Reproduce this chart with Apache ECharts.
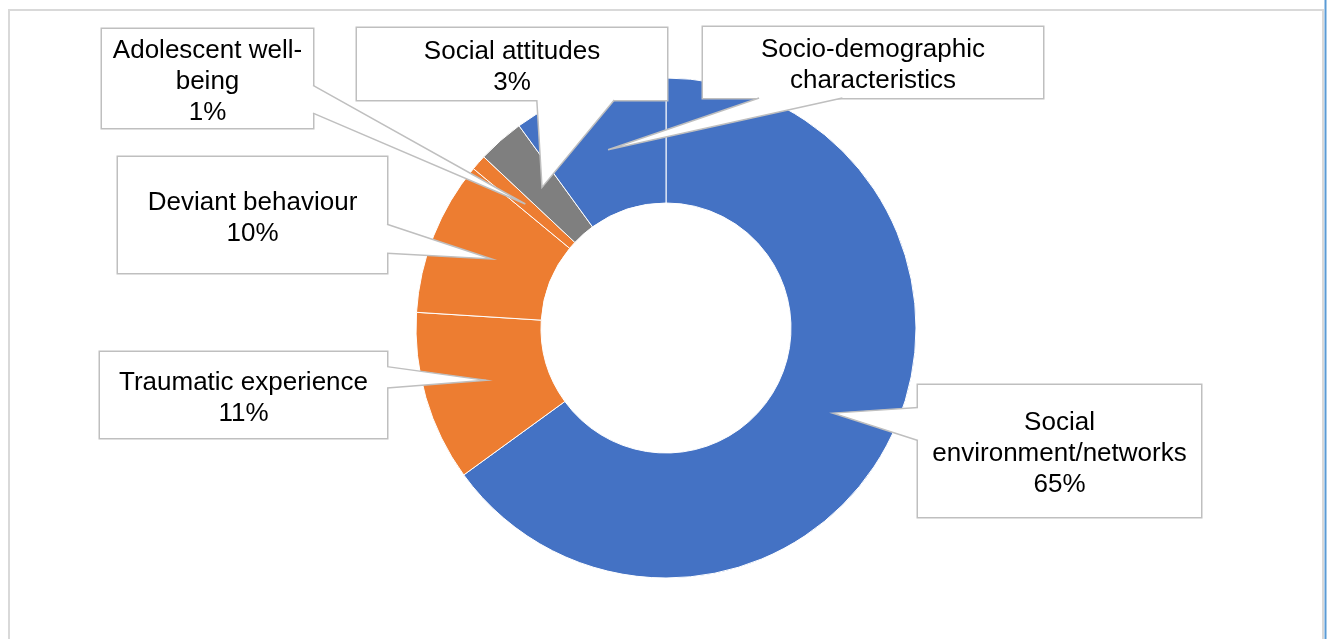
<!DOCTYPE html>
<html>
<head>
<meta charset="utf-8">
<script src="https://cdn.jsdelivr.net/npm/echarts@6/dist/echarts.min.js"></script>
<style>
  html, body { margin: 0; padding: 0; background: #fff; }
  #chart { width: 1330px; height: 639px; }
</style>
</head>
<body>
<div id="chart"></div>
<script>
// Share of studies by factor group (percent)
const categories = [
  'Social environment/networks',
  'Traumatic experience',
  'Deviant behaviour',
  'Adolescent well-being',
  'Social attitudes',
  'Socio-demographic characteristics'
];
const shares = [65, 11, 10, 1, 3, 10];
const labelTexts = [
  'Social\nenvironment/networks',
  'Traumatic experience',
  'Deviant behaviour',
  'Adolescent well-\nbeing',
  'Social attitudes',
  'Socio-demographic\ncharacteristics'
];
const showShare = [true, true, true, true, true, false];
const colors = ['#4472C4', '#ED7D31', '#ED7D31', '#ED7D31', '#7F7F7F', '#4472C4'];

// Donut geometry
const CX = 666, CY = 328, R_IN = 125, R_OUT = 250;
const LINE_H = 31;
const TEXT_SHIFT = 3; // text sits a little below the box middle

// Callout boxes: outer rect plus the edge and span where the pointer leaves the box
const callouts = [
  { x: 918, y: 385, w: 283, h: 132, edge: 'left',   span: [0.17, 0.42] },
  { x: 100, y: 352, w: 287, h: 86,  edge: 'right',  span: [0.17, 0.42] },
  { x: 118, y: 157, w: 269, h: 116, edge: 'right',  span: [0.58, 0.83] },
  { x: 102, y: 29,  w: 211, h: 99,  edge: 'right',  span: [0.57, 0.85] },
  { x: 357, y: 28,  w: 310, h: 72,  edge: 'bottom', span: [0.58, 0.83] },
  { x: 703, y: 27,  w: 340, h: 71,  edge: 'bottom', span: [0.165, 0.41] }
];

function labelText(i) {
  return labelTexts[i] + (showShare[i] ? '\n' + shares[i] + '%' : '');
}

const total = shares.reduce((a, b) => a + b, 0);

const data = categories.map((name, i) => {
  const box = callouts[i];
  const nLines = labelText(i).split('\n').length;
  const pv = Math.max(0, (box.h - nLines * LINE_H) / 2);
  const top = pv + TEXT_SHIFT;
  const bottom = Math.max(0, box.h - nLines * LINE_H - top);
  return {
    name: name,
    value: shares[i],
    itemStyle: { color: colors[i] },
    label: { width: box.w, padding: [top, 0, bottom, 0] }
  };
});

// Pointer tails from each box to the middle of its slice
const tails = [];
let acc = 0;
shares.forEach((v, i) => {
  const mid = (acc + v / 2) / total * Math.PI * 2;
  acc += v;
  const rm = (R_IN + R_OUT) / 2;
  const tip = [CX + rm * Math.sin(mid), CY - rm * Math.cos(mid)];
  const b = callouts[i];
  let b1, b2, b1in, b2in;
  if (b.edge === 'left' || b.edge === 'right') {
    const ex = b.edge === 'left' ? b.x : b.x + b.w;
    const inX = b.edge === 'left' ? ex + 2.5 : ex - 2.5;
    const y1 = b.y + b.span[0] * b.h, y2 = b.y + b.span[1] * b.h;
    b1 = [ex, y1]; b2 = [ex, y2]; b1in = [inX, y1]; b2in = [inX, y2];
  } else {
    const ey = b.y + b.h;
    const x1 = b.x + b.span[0] * b.w, x2 = b.x + b.span[1] * b.w;
    b1 = [x1, ey]; b2 = [x2, ey]; b1in = [x1, ey - 2.5]; b2in = [x2, ey - 2.5];
  }
  tails.push({
    type: 'polygon', z: 100, silent: true,
    shape: { points: [b1in, b1, tip, b2, b2in] },
    style: { fill: '#ffffff', stroke: null }
  });
  tails.push({
    type: 'polyline', z: 101, silent: true,
    shape: { points: [b1, tip, b2] },
    style: { stroke: '#bfbfbf', lineWidth: 1.5, fill: null }
  });
});

const chart = echarts.init(document.getElementById('chart'), null, { renderer: 'canvas' });

chart.setOption({
  animation: false,
  backgroundColor: '#ffffff',
  graphic: [
    {
      type: 'rect', z: 0, silent: true,
      shape: { x: 9, y: 10, width: 1314, height: 700 },
      style: { fill: null, stroke: '#d9d9d9', lineWidth: 2 }
    },
    {
      type: 'line', z: 0, silent: true,
      shape: { x1: 1325.5, y1: 0, x2: 1325.5, y2: 639 },
      style: { stroke: '#5B9BD5', lineWidth: 2 }
    }
  ].concat(tails),
  series: [{
    type: 'pie',
    center: [CX, CY],
    radius: [R_IN, R_OUT],
    startAngle: 90,
    clockwise: true,
    avoidLabelOverlap: false,
    emphasis: { disabled: true },
    itemStyle: { borderColor: '#ffffff', borderWidth: 1 },
    label: {
      show: true,
      position: 'inside',
      formatter: p => labelText(p.dataIndex),
      color: '#000000',
      fontFamily: '"Liberation Sans", Arial, sans-serif',
      fontSize: 26,
      lineHeight: LINE_H,
      align: 'center',
      backgroundColor: '#ffffff',
      borderColor: '#bfbfbf',
      borderWidth: 1.5,
      textBorderWidth: 0
    },
    labelLine: { show: false },
    labelLayout: function (params) {
      const b = callouts[params.dataIndex];
      return {
        x: b.x + b.w / 2,
        y: b.y,
        align: 'center',
        verticalAlign: 'top'
      };
    },
    data: data
  }]
});
</script>
</body>
</html>
